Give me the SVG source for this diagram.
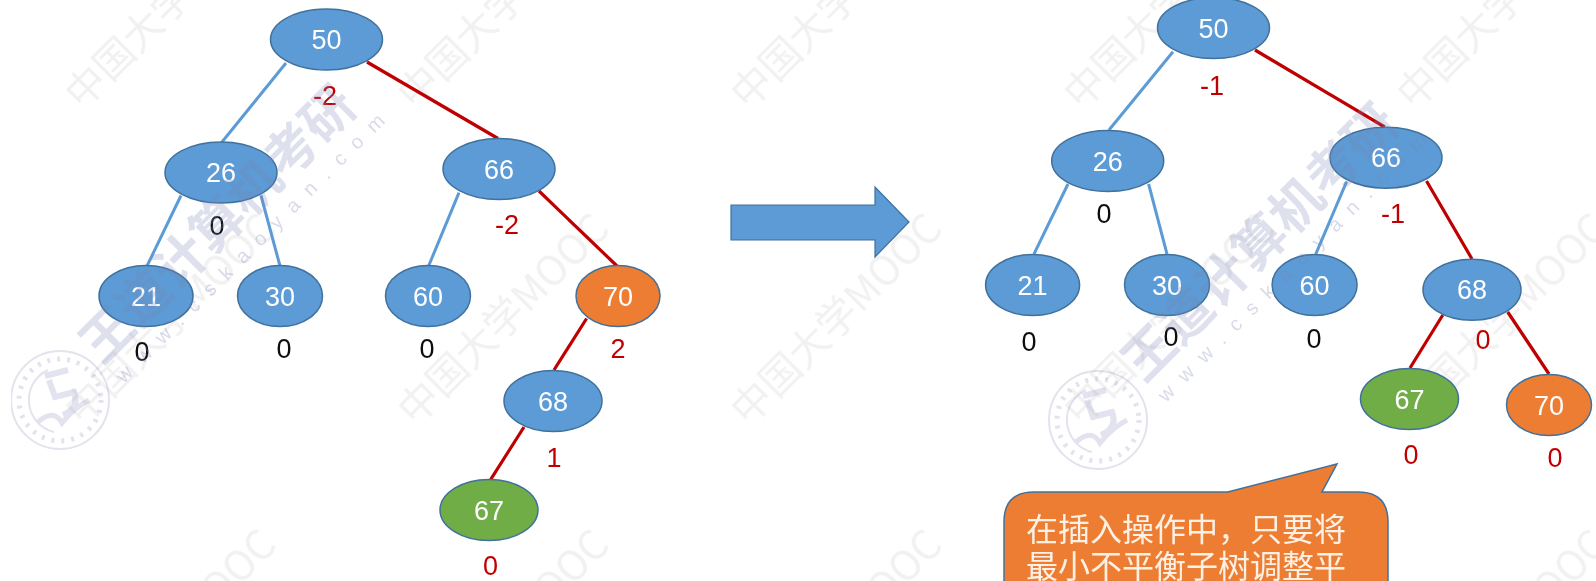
<svg xmlns="http://www.w3.org/2000/svg" width="1596" height="581" viewBox="0 0 1596 581">
<style>
.n{stroke:#41719C;stroke-width:1.5}
.b{fill:#5B9BD5}.o{fill:#ED7D31}.g{fill:#70AD47}
.t{font:27px "Liberation Sans","Noto Sans",sans-serif;fill:#fff;text-anchor:middle}
.l{font:27px "Liberation Sans","Noto Sans",sans-serif;text-anchor:middle}
.k{fill:#111}.r{fill:#C00000}
.cb{stroke:#5B9BD5;stroke-width:3;fill:none}
.cr{stroke:#C00000;stroke-width:3.2;fill:none}
.wm{font:40px "Noto Sans CJK SC","Liberation Sans",sans-serif;fill:#f1f1f1}
.wb{font:bold 52px "Noto Sans CJK SC",sans-serif;fill:#7f86b8;opacity:.26}
.wu{font:20px "Liberation Sans",sans-serif;fill:#7f86b8;opacity:.3;letter-spacing:13px}
.seal{fill:none;stroke:#8a90bc;opacity:.25}
.c{font:32px "Noto Sans CJK SC","Liberation Sans",sans-serif;fill:#FDF1E6}
</style>
<defs>
<filter id="soft" x="0" y="0" width="100%" height="100%"><feGaussianBlur stdDeviation="0.5"/></filter>
<g id="seal-mark">
<circle r="49" stroke-width="2"/>
<circle r="41" stroke-width="5" stroke-dasharray="3 7"/>
<path d="M-6 32A33 33 0 0 1 -12 -30" stroke-width="2"/>
<path d="M-15 -24L8 -30M-11 -20L-5 -3L14 -8Q20 8 3 15" stroke-width="6"/>
<path d="M-22 22Q-6 8 2 23Q14 8 29 0" stroke-width="5"/>
</g>
</defs>
<g filter="url(#soft)">
<g id="watermark-back">
<text class="wm" transform="translate(82,111) rotate(-45)">中国大学MOOC</text>
<text class="wm" transform="translate(415,111) rotate(-45)">中国大学MOOC</text>
<text class="wm" transform="translate(748,111) rotate(-45)">中国大学MOOC</text>
<text class="wm" transform="translate(1081,111) rotate(-45)">中国大学MOOC</text>
<text class="wm" transform="translate(1414,111) rotate(-45)">中国大学MOOC</text>
<text class="wm" transform="translate(82,427) rotate(-45)">中国大学MOOC</text>
<text class="wm" transform="translate(415,427) rotate(-45)">中国大学MOOC</text>
<text class="wm" transform="translate(748,427) rotate(-45)">中国大学MOOC</text>
<text class="wm" transform="translate(1081,427) rotate(-45)">中国大学MOOC</text>
<text class="wm" transform="translate(1414,427) rotate(-45)">中国大学MOOC</text>
<text class="wm" transform="translate(82,743) rotate(-45)">中国大学MOOC</text>
<text class="wm" transform="translate(415,743) rotate(-45)">中国大学MOOC</text>
<text class="wm" transform="translate(748,743) rotate(-45)">中国大学MOOC</text>
<text class="wm" transform="translate(1414,743) rotate(-45)">中国大学MOOC</text>
</g>
<g id="connectors">
<path class="cb" d="M286 63L222 142M181 195.5L147 266M261 195.5L280 266M459 192.6L428.6 266"/>
<path class="cr" d="M367 62L498 138.5M539 191L617 266M586.6 318.5L554 370M524 427L490.6 479.6"/>
<path class="cb" d="M1173 51.7L1109 130M1068 184L1034 254M1148.6 184L1167 254M1346.6 181.7L1315.8 254"/>
<path class="cr" d="M1255 50L1384.7 127M1426.5 181L1472 259M1442.8 315L1410 368M1507.7 312L1549 374"/>
</g>
<g id="L50"><ellipse class="n b" cx="326.5" cy="39.5" rx="56" ry="30.5"/><text class="t" x="326.5" y="49">50</text></g>
<g id="L26"><ellipse class="n b" cx="221" cy="172.5" rx="56" ry="30.5"/><text class="t" x="221" y="182">26</text></g>
<g id="L66"><ellipse class="n b" cx="499" cy="169" rx="56" ry="30.5"/><text class="t" x="499" y="178.5">66</text></g>
<g id="L21"><ellipse class="n b" cx="146" cy="296" rx="47" ry="30.5"/><text class="t" x="146" y="305.5">21</text></g>
<g id="L30"><ellipse class="n b" cx="280" cy="296" rx="42.5" ry="30.5"/><text class="t" x="280" y="305.5">30</text></g>
<g id="L60"><ellipse class="n b" cx="428" cy="296" rx="42.5" ry="30.5"/><text class="t" x="428" y="305.5">60</text></g>
<g id="L70"><ellipse class="n o" cx="618" cy="296" rx="42" ry="30.5"/><text class="t" x="618" y="305.5">70</text></g>
<g id="L68"><ellipse class="n b" cx="553" cy="401" rx="49" ry="30.5"/><text class="t" x="553" y="410.5">68</text></g>
<g id="L67"><ellipse class="n g" cx="489" cy="510" rx="49" ry="30.5"/><text class="t" x="489" y="519.5">67</text></g>
<g id="left-labels">
<text class="l r" x="325" y="105">-2</text><text class="l k" x="217" y="235">0</text><text class="l r" x="507" y="234">-2</text>
<text class="l k" x="142" y="361">0</text><text class="l k" x="284" y="358">0</text><text class="l k" x="427" y="358">0</text>
<text class="l r" x="618" y="358">2</text><text class="l r" x="554" y="467">1</text><text class="l r" x="490.6" y="575">0</text>
</g>
<g id="arrow"><path d="M731 205H875V187L909 222L875 257V240H731Z" fill="#5B9BD5" stroke="#41719C" stroke-width="1.2"/></g>
<g id="R50"><ellipse class="n b" cx="1213.5" cy="28" rx="56" ry="30.5"/><text class="t" x="1213.5" y="37.5">50</text></g>
<g id="R26"><ellipse class="n b" cx="1107.7" cy="161" rx="56" ry="30.5"/><text class="t" x="1107.7" y="170.5">26</text></g>
<g id="R66"><ellipse class="n b" cx="1386" cy="157.7" rx="56" ry="30.5"/><text class="t" x="1386" y="167">66</text></g>
<g id="R21"><ellipse class="n b" cx="1032.6" cy="285" rx="47" ry="30.5"/><text class="t" x="1032.6" y="294.5">21</text></g>
<g id="R30"><ellipse class="n b" cx="1167" cy="285" rx="42.5" ry="30.5"/><text class="t" x="1167" y="294.5">30</text></g>
<g id="R60"><ellipse class="n b" cx="1314.6" cy="285" rx="42.5" ry="30.5"/><text class="t" x="1314.6" y="294.5">60</text></g>
<g id="R68"><ellipse class="n b" cx="1472" cy="289.7" rx="49" ry="30.5"/><text class="t" x="1472" y="299">68</text></g>
<g id="R67"><ellipse class="n g" cx="1409.5" cy="399" rx="49" ry="30.5"/><text class="t" x="1409.5" y="408.5">67</text></g>
<g id="R70"><ellipse class="n o" cx="1549" cy="405" rx="42.5" ry="30.5"/><text class="t" x="1549" y="414.5">70</text></g>
<g id="right-labels">
<text class="l r" x="1212" y="95">-1</text><text class="l k" x="1104" y="223">0</text><text class="l r" x="1393" y="223">-1</text>
<text class="l k" x="1029" y="351">0</text><text class="l k" x="1171" y="346">0</text><text class="l k" x="1314" y="348">0</text>
<text class="l r" x="1483" y="349">0</text><text class="l r" x="1411" y="464">0</text><text class="l r" x="1555" y="467">0</text>
</g>
<g id="callout">
<path d="M1034 492H1227.7L1337 464L1322 492H1358Q1388 492 1388 522V600H1004V522Q1004 492 1034 492Z" fill="#ED7D31" stroke="#41719C" stroke-width="1.5"/>
<text class="c" x="1026" y="541">在插入操作中，只要将</text>
<text class="c" x="1026" y="578">最小不平衡子树调整平</text>
</g>
<g id="watermark-front">
<text class="wb" transform="translate(102,366) rotate(-45)">王道计算机考研</text>
<text class="wb" transform="translate(1144,384) rotate(-45)">王道计算机考研</text>
<text class="wu" transform="translate(124,384) rotate(-45)">www.cskaoyan.com</text>
<text class="wu" transform="translate(1166,403) rotate(-45)">www.cskaoyan.com</text>
<use class="seal" href="#seal-mark" transform="translate(60,400)"/>
<use class="seal" href="#seal-mark" transform="translate(1098,420)"/>
</g>
</g>
</svg>
